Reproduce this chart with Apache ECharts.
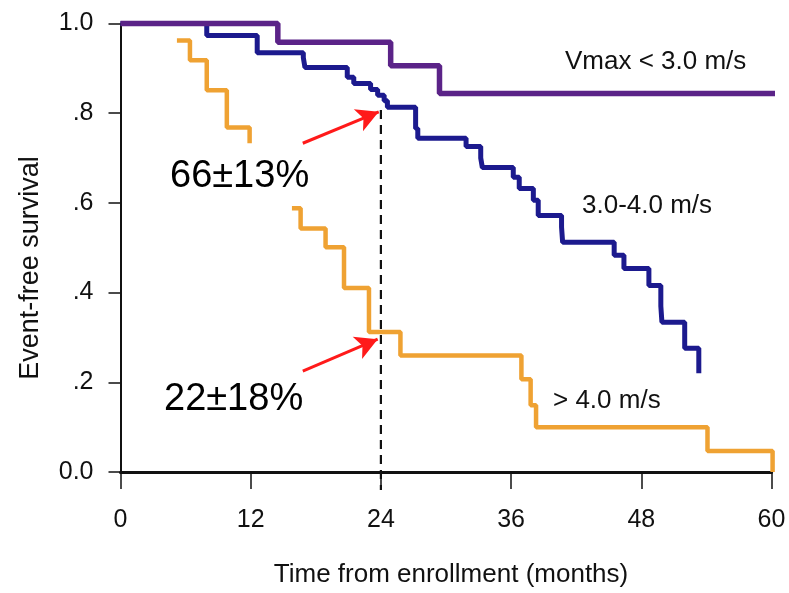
<!DOCTYPE html>
<html>
<head>
<meta charset="utf-8">
<script src="https://cdn.jsdelivr.net/npm/echarts@6/dist/echarts.min.js"></script>
<style>html,body{margin:0;padding:0;background:#fff;}#c{width:789px;height:593px;}</style>
</head>
<body>
<div id="c"></div>
<script>
// X axis ticks (months) and Y tick labels
const xTicks = [0, 12, 24, 36, 48, 60];
const yTickLabels = ['0.0', '.2', '.4', '.6', '.8', '1.0'];

// Kaplan-Meier curves: [time of event (months), survival after event]
const purpleLow = [[0, 1.0], [14.5, 0.958], [24.9, 0.906], [29.4, 0.844], [61, 0.844]];
const blueMid = [
  [0, 1.0], [7.95, 0.973], [12.6, 0.935], [16.85, 0.924], [17.0, 0.902], [20.9, 0.88],
  [21.5, 0.866], [23.05, 0.853], [23.7, 0.84], [24.3, 0.828], [24.6, 0.813], [27.2, 0.766],
  [27.4, 0.744], [31.85, 0.726], [33.2, 0.70], [33.35, 0.679], [36.2, 0.657], [36.75, 0.632],
  [38.05, 0.606], [38.5, 0.572], [40.65, 0.546], [40.75, 0.512], [45.5, 0.483], [46.4, 0.454],
  [48.7, 0.416], [49.8, 0.37], [49.9, 0.334], [52.0, 0.276], [53.3, 0.22]
];
// >4.0 m/s curve: visible part before and after the label that hides it
const orangeHighA = [[5.2, 0.962], [6.4, 0.918], [7.95, 0.851], [9.8, 0.768], [11.9, 0.733]];
const orangeHighB = [
  [15.8, 0.588], [16.6, 0.543], [18.9, 0.501], [20.6, 0.41], [22.9, 0.312], [25.8, 0.26],
  [36.95, 0.207], [37.8, 0.149], [38.3, 0.10], [54.1, 0.047], [60.1, 0.0]
];
// 24-month reference line
const refLine = [[24, 0.807], [24, -0.04]];
// annotations: arrow start/end [month, survival]
const arrowTop = [[16.8, 0.733], [23.8, 0.803]];
const arrowBottom = [[16.8, 0.225], [23.7, 0.296]];
const curveLabels = ['Vmax < 3.0 m/s', '3.0-4.0 m/s', '> 4.0 m/s'];
const estLabels = ['66\u00b113%', '22\u00b118%'];

const FONT = '"Liberation Sans", Arial, Helvetica, sans-serif';
const chart = echarts.init(document.getElementById('c'), null, {renderer: 'canvas'});

function arrowLine(pts) {
  return {
    type: 'line', data: pts, symbol: 'none', showSymbol: false,
    lineStyle: {width: 0, opacity: 0}, silent: true, z: 6,
    markLine: {
      silent: true, symbol: ['none', 'arrow'], symbolSize: [18, 22],
      label: {show: false},
      lineStyle: {color: '#ff1a1a', width: 3, type: 'solid'},
      data: [[{coord: pts[0]}, {coord: pts[1]}]]
    }
  };
}

const orangeStyle = {color: '#efa233', width: 4.5};

chart.setOption({
  animation: false,
  backgroundColor: '#fff',
  grid: {left: 120.5, right: 17.5, top: 23.5, bottom: 120},
  xAxis: {
    type: 'value', min: xTicks[0], max: xTicks[xTicks.length - 1], interval: 12,
    name: 'Time from enrollment (months)', nameLocation: 'middle', nameGap: 90,
    nameTextStyle: {fontSize: 26, color: '#111', fontFamily: FONT, padding: [0, 0, 0, 10]},
    axisLine: {show: true, lineStyle: {color: '#111', width: 3}},
    axisTick: {show: true, length: 17, lineStyle: {color: '#111', width: 1.5}},
    axisLabel: {fontSize: 25, color: '#111', fontFamily: FONT, margin: 36},
    splitLine: {show: false}
  },
  yAxis: {
    type: 'value', min: 0, max: 1, interval: 0.2,
    axisLine: {show: true, lineStyle: {color: '#111', width: 2}},
    axisTick: {show: true, length: 12, lineStyle: {color: '#111', width: 1.5}},
    axisLabel: {fontSize: 25, color: '#111', fontFamily: FONT, margin: 27,
      formatter: v => yTickLabels[Math.round(v * 5)]},
    splitLine: {show: false}
  },
  series: [
    {type: 'line', data: refLine, showSymbol: false, symbol: 'none', clip: false, z: 3,
     lineStyle: {color: '#111', width: 2.2, type: [9, 6]}},
    {type: 'line', name: curveLabels[1], data: blueMid, step: 'end', showSymbol: false, symbol: 'none', z: 4,
     lineStyle: {color: '#1c1a8e', width: 5}},
    {type: 'line', name: curveLabels[0], data: purpleLow, step: 'end', showSymbol: false, symbol: 'none', clip: false, z: 5,
     lineStyle: {color: '#5b2388', width: 5.5}},
    {type: 'line', name: curveLabels[2], data: orangeHighA, step: 'end', showSymbol: false, symbol: 'none', z: 4,
     lineStyle: orangeStyle},
    {type: 'line', name: curveLabels[2], data: orangeHighB, step: 'end', showSymbol: false, symbol: 'none', z: 4,
     lineStyle: orangeStyle},
    arrowLine(arrowTop),
    arrowLine(arrowBottom)
  ],
  graphic: [
    {type: 'text', x: 31, y: 268, rotation: Math.PI / 2, z: 10,
     style: {text: 'Event-free survival', font: '27px ' + FONT, fill: '#111', align: 'center', verticalAlign: 'middle'}},
    {type: 'text', left: 565, top: 49, z: 10, style: {text: curveLabels[0], font: '26px ' + FONT, fill: '#111'}},
    {type: 'text', left: 582, top: 193, z: 10, style: {text: curveLabels[1], font: '26px ' + FONT, fill: '#111'}},
    {type: 'text', left: 553, top: 388, z: 10, style: {text: curveLabels[2], font: '26px ' + FONT, fill: '#111'}},
    {type: 'text', left: 170, top: 158, z: 10, style: {text: estLabels[0], font: '38px ' + FONT, fill: '#000'}},
    {type: 'text', left: 164, top: 381, z: 10, style: {text: estLabels[1], font: '38px ' + FONT, fill: '#000'}}
  ]
});
</script>
</body>
</html>
